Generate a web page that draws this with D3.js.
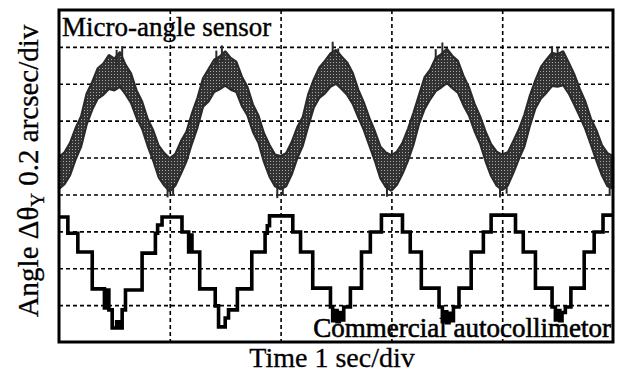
<!DOCTYPE html>
<html>
<head>
<meta charset="utf-8">
<script src="https://cdn.jsdelivr.net/npm/d3@7"></script>
<style>
  body { margin: 0; background: #fff; }
</style>
</head>
<body>
<div id="chart"></div>
<script>
// time axis: 5 divisions of 1 sec, angle axis: 9 divisions of 0.2 arcsec
var timeDivs = [0, 1, 2, 3, 4, 5];
var angleDivs = [0, 1, 2, 3, 4, 5, 6, 7, 8, 9];

// micro-angle sensor trace, sampled every 0.05 s, upper and lower edge of the noisy band (in divisions)
var sensorTop = [
  5.02, 5.14, 5.40, 5.80, 6.12, 6.74, 7.05, 7.42, 7.55, 7.78, 7.68, 7.86, 7.52, 7.28, 6.82, 6.52, 6.05, 5.74, 5.32, 5.12,
  4.98, 5.10, 5.44, 5.70, 6.20, 6.62, 7.15, 7.40, 7.65, 7.74, 7.88, 7.70, 7.60, 7.20, 6.92, 6.44, 6.14, 5.66, 5.34, 5.08,
  5.04, 5.12, 5.42, 5.82, 6.10, 6.72, 7.12, 7.44, 7.62, 7.82, 7.92, 7.74, 7.58, 7.30, 6.85, 6.50, 6.08, 5.72, 5.30, 5.14,
  5.06, 5.16, 5.40, 5.78, 6.22, 6.70, 7.18, 7.38, 7.70, 7.80, 7.95, 7.76, 7.62, 7.22, 6.90, 6.46, 6.12, 5.70, 5.36, 5.16,
  5.08, 5.14, 5.44, 5.76, 6.16, 6.68, 7.10, 7.46, 7.66, 7.84, 7.80, 7.88, 7.58, 7.26, 6.86, 6.52, 6.06, 5.74, 5.34, 5.12,
  5.04
];
var sensorBottom = [
  4.15, 4.28, 4.52, 4.95, 5.30, 5.90, 6.30, 6.60, 6.70, 6.86, 6.82, 6.92, 6.72, 6.48, 6.08, 5.78, 5.32, 4.92, 4.46, 4.24,
  4.08, 4.24, 4.56, 4.90, 5.38, 5.82, 6.38, 6.52, 6.78, 6.85, 6.95, 6.84, 6.78, 6.40, 6.15, 5.70, 5.40, 4.88, 4.48, 4.22,
  4.14, 4.22, 4.54, 4.98, 5.32, 5.86, 6.36, 6.62, 6.74, 6.92, 7.00, 6.86, 6.70, 6.46, 6.10, 5.76, 5.34, 4.92, 4.44, 4.20,
  4.10, 4.26, 4.56, 4.92, 5.36, 5.92, 6.32, 6.58, 6.80, 6.90, 7.02, 6.88, 6.76, 6.42, 6.14, 5.72, 5.38, 4.90, 4.50, 4.24,
  4.12, 4.24, 4.58, 4.96, 5.30, 5.86, 6.34, 6.60, 6.76, 6.94, 6.92, 6.96, 6.74, 6.44, 6.12, 5.78, 5.36, 4.92, 4.52, 4.22,
  4.16
];
// noise spikes sticking out of the band: [time, from, to]
var sensorSpikes = [
  [0.57, 7.6, 8.02], [0.52, 7.5, 7.92], [1.47, 7.6, 8.04], [1.42, 7.5, 7.90],
  [2.47, 7.7, 8.14], [2.52, 7.6, 7.96], [3.46, 7.7, 8.12], [3.40, 7.6, 7.94],
  [4.45, 7.7, 8.02], [4.50, 7.6, 7.98],
  [0.98, 4.4, 3.92], [1.03, 4.3, 4.00], [1.97, 4.3, 3.90], [2.02, 4.2, 3.98],
  [2.96, 4.3, 3.94], [3.98, 4.3, 3.92], [4.04, 4.3, 4.02], [4.97, 4.3, 3.96]
];

// commercial autocollimator staircase trace
var autoTime = [
  0.00, 0.08, 0.17, 0.30, 0.41, 0.42, 0.45, 0.48, 0.52, 0.54, 0.57, 0.60, 0.75, 0.87, 0.89, 0.93,
  1.11, 1.17, 1.18, 1.20, 1.27, 1.41, 1.44, 1.50, 1.53, 1.61, 1.74, 1.86, 1.88, 1.90,
  2.11, 2.18, 2.29, 2.45, 2.47, 2.49, 2.51, 2.53, 2.55, 2.57, 2.63, 2.73, 2.81, 2.91,
  3.10, 3.17, 3.27, 3.43, 3.46, 3.48, 3.50, 3.52, 3.54, 3.56, 3.61, 3.72, 3.83, 3.90,
  4.12, 4.19, 4.30, 4.45, 4.48, 4.50, 4.52, 4.54, 4.57, 4.62, 4.74, 4.83, 4.91, 5.00
];
var autoValue = [
  3.39, 2.95, 2.44, 1.44, 0.92, 1.41, 0.87, 0.38, 0.55, 0.38, 0.87, 1.41, 2.41, 2.95, 3.17, 3.39,
  2.98, 2.44, 2.90, 2.44, 1.44, 0.98, 0.41, 0.65, 0.87, 1.44, 2.44, 2.95, 3.15, 3.42,
  2.98, 2.44, 1.46, 0.95, 0.58, 0.85, 0.55, 0.80, 0.60, 0.95, 1.46, 2.44, 2.98, 3.44,
  2.98, 2.44, 1.46, 0.95, 0.55, 0.82, 0.52, 0.78, 0.58, 0.95, 1.46, 2.44, 2.98, 3.44,
  2.98, 2.44, 1.46, 0.95, 0.60, 0.85, 0.58, 0.80, 0.95, 1.46, 2.44, 2.98, 3.44, 3.44
];

var serif = "Liberation Serif";

var margin = {top: 10, left: 59, bottom: 32, right: 8};
var width = 621 - margin.left - margin.right;
var height = 374 - margin.top - margin.bottom;

var svg = d3.select("#chart").append("svg")
  .attr("width", 621)
  .attr("height", 374);

var defs = svg.append("defs");
var pat = defs.append("pattern")
  .attr("id", "speckle")
  .attr("width", 3).attr("height", 3)
  .attr("patternUnits", "userSpaceOnUse");
pat.append("rect").attr("width", 3).attr("height", 3).attr("fill", "#333");
pat.append("rect").attr("x", 1).attr("y", 1).attr("width", 1).attr("height", 1).attr("fill", "#a8a8a8");

var g = svg.append("g")
  .attr("transform", "translate(" + margin.left + "," + margin.top + ")");

var xScale = d3.scaleLinear().domain([0, 5]).range([0, width]);
var yScale = d3.scaleLinear().domain([0, 9]).range([height, 0]);

// dashed grid
g.append("g")
  .attr("class", "grid")
  .call(d3.axisBottom(xScale).tickValues(timeDivs.slice(1, -1)).tickSize(height).tickFormat(""));
g.append("g")
  .attr("class", "grid")
  .call(d3.axisRight(yScale).tickValues(angleDivs.slice(1, -1)).tickSize(width).tickFormat(""));
g.selectAll(".grid .domain").remove();
g.selectAll(".grid line")
  .attr("stroke", "#000")
  .attr("stroke-width", 1.6)
  .attr("stroke-dasharray", "4,3");

// micro-angle sensor band
var sensorData = sensorTop.map((v, i) => ({t: i * 0.05, hi: v, lo: sensorBottom[i]}));
var band = d3.area()
  .x(d => xScale(d.t))
  .y0(d => yScale(d.lo))
  .y1(d => yScale(d.hi));

g.append("path")
  .datum(sensorData)
  .attr("d", band)
  .attr("fill", "url(#speckle)")
  .attr("stroke", "#2a2a2a")
  .attr("stroke-width", 2.2)
  .attr("stroke-linejoin", "bevel");

g.selectAll(".spike")
  .data(sensorSpikes)
  .enter().append("line")
  .attr("class", "spike")
  .attr("x1", d => xScale(d[0]))
  .attr("x2", d => xScale(d[0]))
  .attr("y1", d => yScale(d[1]))
  .attr("y2", d => yScale(d[2]))
  .attr("stroke", "#2a2a2a")
  .attr("stroke-width", 2);

// autocollimator staircase
var autoData = autoTime.map((t, i) => ({t: t, v: autoValue[i]}));
var stair = d3.line()
  .x(d => xScale(d.t))
  .y(d => yScale(d.v))
  .curve(d3.curveStepAfter);

g.append("path")
  .datum(autoData)
  .attr("d", stair)
  .attr("fill", "none")
  .attr("stroke", "#000")
  .attr("stroke-width", 3.6);

// frame
g.append("rect")
  .attr("width", width)
  .attr("height", height)
  .attr("fill", "none")
  .attr("stroke", "#000")
  .attr("stroke-width", 3);

// labels
g.append("text")
  .attr("x", 3)
  .attr("y", 26)
  .attr("font-family", serif)
  .attr("font-size", 27)
  .attr("stroke", "#000")
  .attr("stroke-width", 0.4)
  .text("Micro-angle sensor");

g.append("text")
  .attr("x", width - 2)
  .attr("y", height - 5)
  .attr("text-anchor", "end")
  .attr("font-family", serif)
  .attr("font-size", 27)
  .attr("stroke", "#000")
  .attr("stroke-width", 0.6)
  .text("Commercial autocollimetor");

svg.append("text")
  .attr("x", 332)
  .attr("y", 367)
  .attr("text-anchor", "middle")
  .attr("font-family", serif)
  .attr("font-size", 28)
  .attr("stroke", "#000")
  .attr("stroke-width", 0.3)
  .text("Time 1 sec/div");

var ylab = svg.append("text")
  .attr("transform", "translate(38,171) rotate(-90)")
  .attr("text-anchor", "middle")
  .attr("font-family", serif)
  .attr("font-size", 29)
  .attr("stroke", "#000")
  .attr("stroke-width", 0.3);
ylab.append("tspan").text("Angle \u0394\u03b8");
ylab.append("tspan").attr("font-size", 19).attr("dy", 6).text("Y");
ylab.append("tspan").attr("dy", -6).text(" 0.2 arcsec/div");
</script>
</body>
</html>
